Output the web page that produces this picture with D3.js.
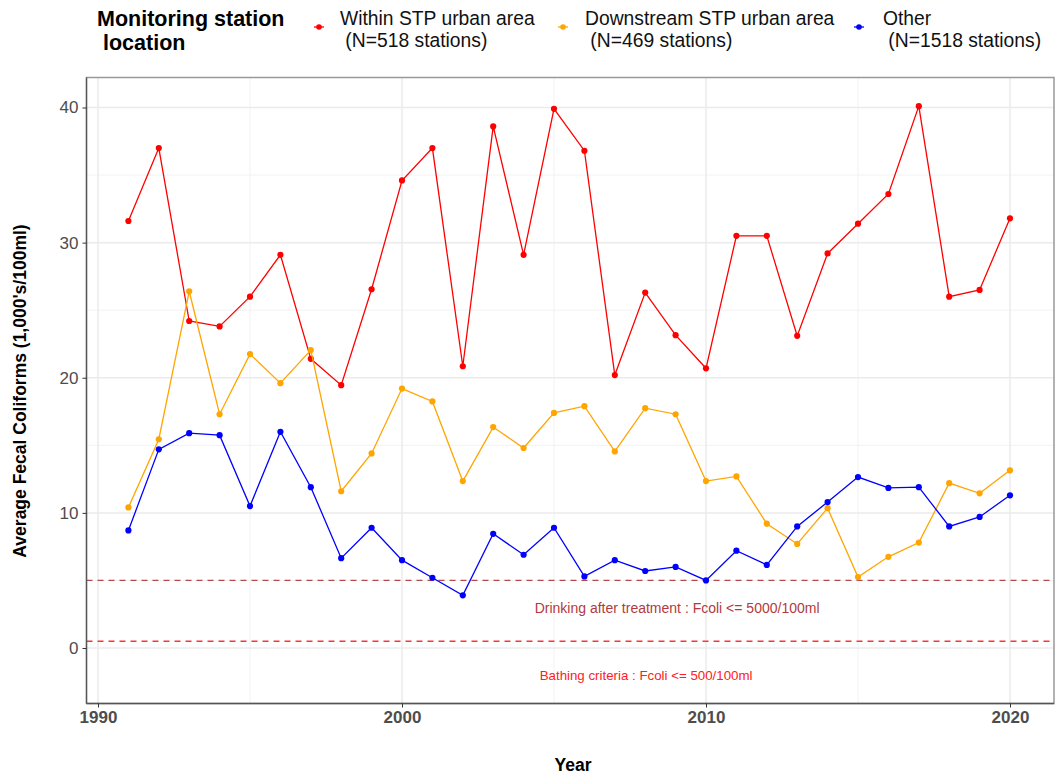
<!DOCTYPE html>
<html><head><meta charset="utf-8">
<script src="https://cdn.jsdelivr.net/npm/d3@7"></script>
<style>body{margin:0;background:#fff;} svg{display:block;font-family:"Liberation Sans",Arial,sans-serif;}</style>
</head><body><svg id="c" width="1056" height="778"></svg>
<script>
const years = d3.range(1991, 2021);
const withinSTP = [31.6,37.0,24.2,23.8,26.0,29.1,21.4,19.45,26.55,34.6,37.0,20.85,38.6,29.1,39.9,36.8,20.2,26.3,23.15,20.7,30.5,30.5,23.1,29.2,31.4,33.6,40.1,26.0,26.5,31.8];
const downstreamSTP = [10.4,15.45,26.4,17.3,21.75,19.6,22.05,11.6,14.4,19.2,18.25,12.35,16.35,14.8,17.4,17.9,14.55,17.75,17.3,12.35,12.7,9.2,7.7,10.35,5.25,6.75,7.8,12.2,11.45,13.15];
const other = [8.7,14.7,15.9,15.75,10.5,16.0,11.9,6.65,8.9,6.5,5.2,3.9,8.45,6.9,8.9,5.3,6.5,5.7,6.0,5.0,7.2,6.15,9.0,10.8,12.65,11.85,11.9,9.0,9.7,11.3];
const seriesNames = ["Within STP urban area", "Downstream STP urban area", "Other"];
const seriesN = ["(N=518 stations)", "(N=469 stations)", "(N=1518 stations)"];
const seriesColors = ["#FF0000", "#FFA500", "#0000FF"];
const xTicks = [1990, 2000, 2010, 2020];
const yTicks = [0, 10, 20, 30, 40];
const thresholds = [5, 0.5];
const thresholdLabels = ["Drinking after treatment : Fcoli <= 5000/100ml", "Bathing criteria : Fcoli <= 500/100ml"];
const labelPos = [[2009.05, 2.95], [2008.03, -2.05]];
const thresholdColors = ["#B5484C", "#FF3333"];
const labelColors = ["#B23A3E", "#FF2020"];

const svg = d3.select("#c");
const L = 86.5, R = 1054, T = 77.5, B = 703.5;
const x = d3.scaleLinear().domain([1990, 2020]).range([98, 1010]);
const y = d3.scaleLinear().domain([0, 40]).range([648, 107.5]);

// grid
const g = svg.append("g");
const minorX = [1995, 2005, 2015];
const minorY = [5, 15, 25, 35];
g.selectAll(".mx").data(minorX).enter().append("line").attr("x1", d=>x(d)).attr("x2", d=>x(d)).attr("y1", T).attr("y2", B).attr("stroke", "#f2f2f2").attr("stroke-width", 1);
g.selectAll(".my").data(minorY).enter().append("line").attr("x1", L).attr("x2", R).attr("y1", d=>y(d)).attr("y2", d=>y(d)).attr("stroke", "#f2f2f2").attr("stroke-width", 1);
g.selectAll(".gx").data(xTicks).enter().append("line").attr("x1", d=>x(d)).attr("x2", d=>x(d)).attr("y1", T).attr("y2", B).attr("stroke", "#ebebeb").attr("stroke-width", 1.5);
g.selectAll(".gy").data(yTicks).enter().append("line").attr("x1", L).attr("x2", R).attr("y1", d=>y(d)).attr("y2", d=>y(d)).attr("stroke", "#ebebeb").attr("stroke-width", 1.5);

// border
svg.append("rect").attr("x", L).attr("y", T).attr("width", R-L).attr("height", B-T).attr("fill", "none").attr("stroke", "#999").attr("stroke-width", 1.5);

// thresholds
const labelSizes = [14, 13.3];
thresholds.forEach((t, i) => {
  svg.append("line").attr("x1", L).attr("x2", R).attr("y1", y(t)).attr("y2", y(t))
    .attr("stroke", thresholdColors[i]).attr("stroke-width", 1.3).attr("stroke-dasharray", "6,5");
  svg.append("text").attr("x", x(labelPos[i][0])).attr("y", y(labelPos[i][1])).attr("dy", "0.35em")
    .attr("text-anchor", "middle").attr("font-size", labelSizes[i]).attr("fill", labelColors[i]).text(thresholdLabels[i]);
});

// series
const allSeries = [withinSTP, downstreamSTP, other];
const line = d3.line().x((d, i) => x(years[i])).y(d => y(d));
allSeries.forEach((s, k) => {
  svg.append("path").datum(s).attr("d", line).attr("fill", "none").attr("stroke", seriesColors[k]).attr("stroke-width", 1.3);
  svg.selectAll(null).data(s).enter().append("circle").attr("cx", (d, i) => x(years[i])).attr("cy", d => y(d)).attr("r", 3.1).attr("fill", seriesColors[k]);
});

// axes
const xAxis = svg.append("g").attr("transform", `translate(0,${B})`)
  .call(d3.axisBottom(x).tickValues(xTicks).tickFormat(d3.format("d")).tickSize(4).tickPadding(3));
xAxis.select(".domain").attr("d", `M${L},0H${R}`).attr("stroke", "#555").attr("stroke-width", 1.3);
xAxis.selectAll(".tick line").attr("stroke", "#333");
xAxis.selectAll("text").attr("font-size", 17).attr("font-weight", "bold").attr("fill", "#4d4d4d").attr("font-family", "Liberation Sans, Arial, sans-serif");

const yAxis = svg.append("g").attr("transform", `translate(${L},0)`)
  .call(d3.axisLeft(y).tickValues(yTicks).tickSize(4).tickPadding(4));
yAxis.select(".domain").attr("d", `M0,${T}V${B}`).attr("stroke", "#555").attr("stroke-width", 1.3);
yAxis.selectAll(".tick line").attr("stroke", "#333");
yAxis.selectAll("text").attr("font-size", 17).attr("fill", "#4d4d4d").attr("font-family", "Liberation Sans, Arial, sans-serif");

// axis titles
svg.append("text").attr("x", 573).attr("y", 771).attr("text-anchor", "middle").attr("font-size", 17.5).attr("font-weight", "bold").text("Year");
svg.append("text").attr("transform", "translate(26,391) rotate(-90)").attr("text-anchor", "middle").attr("font-size", 17.5).attr("font-weight", "bold").text("Average Fecal Coliforms (1,000's/100ml)");

// legend
const lg = svg.append("g");
lg.append("text").attr("x", 97).attr("y", 25.5).attr("font-size", 21.5).attr("font-weight", "bold").text("Monitoring station");
lg.append("text").attr("x", 97).attr("y", 49.5).attr("font-size", 21.5).attr("font-weight", "bold").attr("xml:space", "preserve").text(" location");
const keyX = [319, 563, 859];
const textX = [340, 585, 883];
seriesNames.forEach((n, k) => {
  const kx = keyX[k];
  lg.append("line").attr("x1", kx-5).attr("x2", kx+5).attr("y1", 27).attr("y2", 27).attr("stroke", seriesColors[k]).attr("stroke-width", 1.3);
  lg.append("circle").attr("cx", kx).attr("cy", 27).attr("r", 2.8).attr("fill", seriesColors[k]);
  lg.append("text").attr("x", textX[k]).attr("y", 25).attr("font-size", 19.3).attr("fill", "#111").text(n);
  lg.append("text").attr("x", textX[k]).attr("y", 47).attr("font-size", 19.3).attr("fill", "#111").attr("xml:space", "preserve").text(" " + seriesN[k]);
});
</script></body></html>
